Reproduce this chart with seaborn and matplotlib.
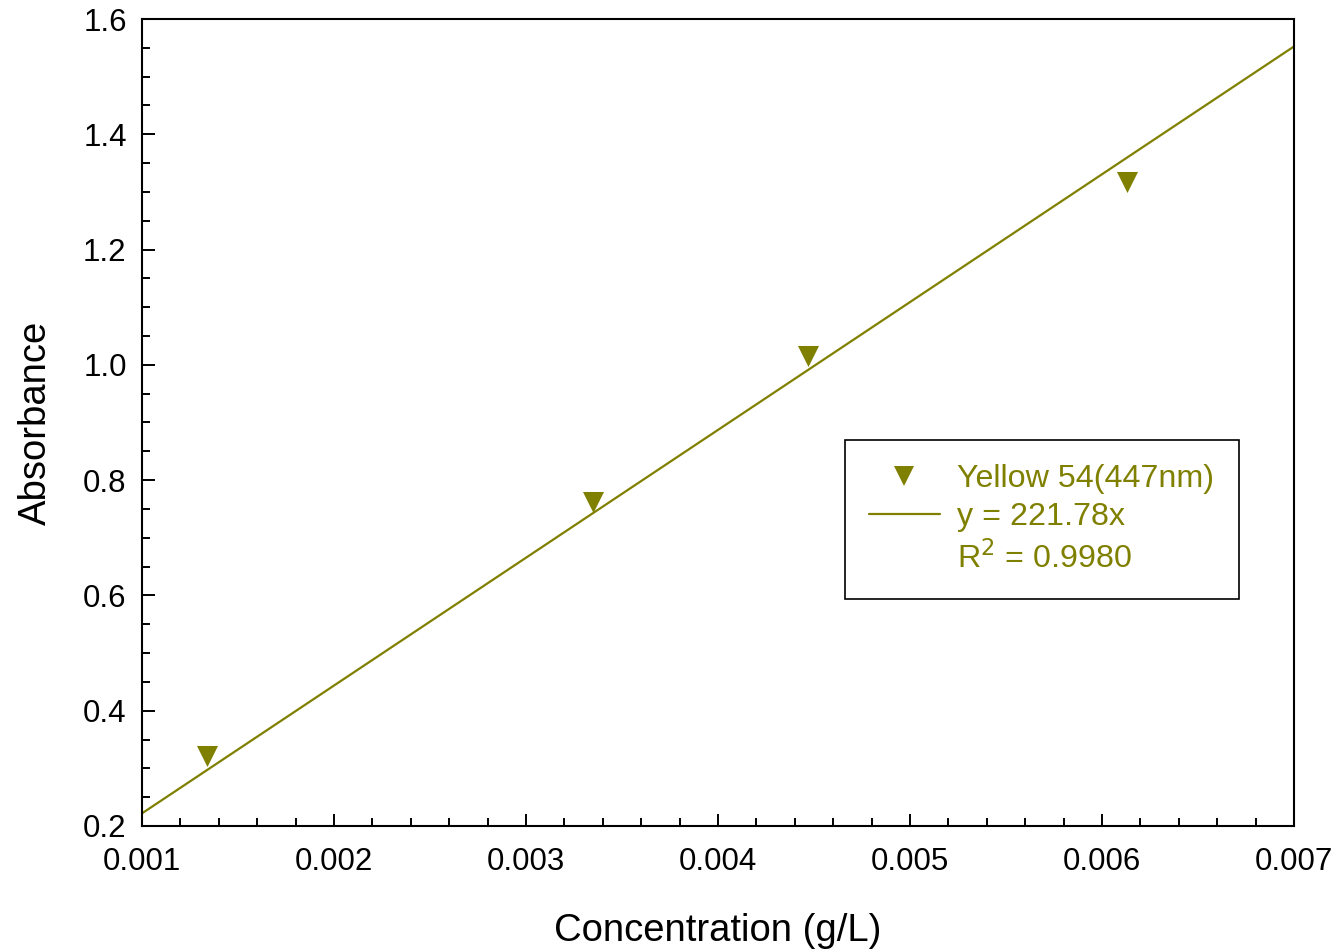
import numpy as np
import pandas as pd
import matplotlib.pyplot as plt
from matplotlib.lines import Line2D
from matplotlib.ticker import MultipleLocator, FormatStrFormatter
import seaborn as sns

# values
conc = [0.00134, 0.00335, 0.00447, 0.00613]
absorbance = [0.322, 0.762, 1.015, 1.317]
slope = 221.78
r2 = 0.9980
series_name = 'Yellow 54(447nm)'

color = '#808000'

sns.set_style('ticks')
plt.rcParams['font.family'] = ['Liberation Sans', 'DejaVu Sans']
plt.rcParams['text.color'] = 'black'
plt.rcParams['axes.labelcolor'] = 'black'

df = pd.DataFrame({'Concentration': conc, 'Absorbance': absorbance})

fig = plt.figure(figsize=(13.39, 9.52), dpi=100)
ax = fig.add_axes([0.106, 0.1324, 0.8604, 0.8476])

xlim = (0.001, 0.007)
fit_x = np.array(xlim)
fit = pd.DataFrame({'x': fit_x, 'y': slope * fit_x})
sns.lineplot(data=fit, x='x', y='y', color=color, linewidth=1.6, ax=ax)
sns.scatterplot(data=df, x='Concentration', y='Absorbance', marker='v', s=230,
                color=color, linewidth=0, ax=ax, zorder=3)

ax.set_xlim(*xlim)
ax.set_ylim(0.2, 1.6)
ax.xaxis.set_major_locator(MultipleLocator(0.001))
ax.xaxis.set_minor_locator(MultipleLocator(0.0002))
ax.yaxis.set_major_locator(MultipleLocator(0.2))
ax.yaxis.set_minor_locator(MultipleLocator(0.05))
ax.xaxis.set_major_formatter(FormatStrFormatter('%.3f'))
ax.yaxis.set_major_formatter(FormatStrFormatter('%.1f'))

ax.tick_params(which='both', direction='in', top=False, right=False, width=1.4,
               color='black', labelcolor='black')
ax.tick_params(which='major', length=9, labelsize=22.5)
ax.tick_params(axis='y', which='major', pad=11)
ax.tick_params(axis='x', which='major', pad=15)
ax.tick_params(which='minor', length=5.5)
for sp in ax.spines.values():
    sp.set_linewidth(1.5)
    sp.set_color('black')

ax.set_xlabel('Concentration (g/L)', fontsize=27.5, labelpad=26)
ax.set_ylabel('Absorbance', fontsize=27.5, labelpad=21)

handles = [
    Line2D([], [], marker='v', linestyle='none', markersize=15, color=color, markeredgewidth=0),
    Line2D([], [], color=color, linewidth=1.6),
    Line2D([], [], linestyle='none'),
]
labels = [series_name, f'y = {slope:.2f}x', f'R$^2$ = {r2:.4f}']
leg = ax.legend(handles, labels, loc='upper left', bbox_to_anchor=(0.610, 0.478),
                borderaxespad=0, fontsize=23.2, frameon=True, fancybox=False,
                edgecolor='black', framealpha=1, handlelength=2.2,
                handletextpad=0.55, borderpad=0.75, labelspacing=0.25)
leg.get_frame().set_linewidth(1.2)
for t in leg.get_texts():
    t.set_color(color)

fig.savefig('out.png', dpi=100)
